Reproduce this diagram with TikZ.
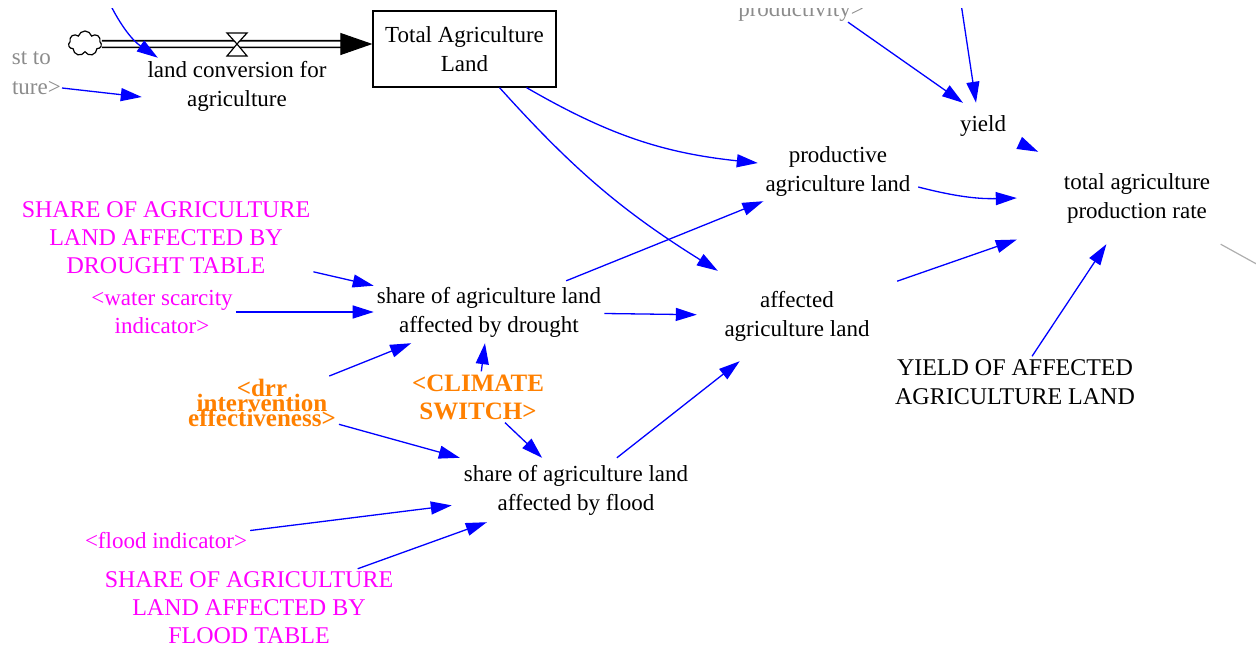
\documentclass[tikz,border=0pt]{standalone}
\usepackage{fontspec}
\setmainfont{Liberation Serif}
\usetikzlibrary{positioning, arrows.meta, shapes.symbols}

\definecolor{vblue}{RGB}{0,0,255}
\definecolor{vpink}{RGB}{255,0,255}
\definecolor{vorange}{RGB}{255,128,0}
\definecolor{vgray}{RGB}{140,140,140}

\newcommand\tightlines{\lineskiplimit -30pt\relax}

\tikzset{
    var/.style={align=center, inner sep=3pt, font=\fontsize{23}{29}\selectfont},
    ext/.style={var, text=vpink, font=\fontsize{23}{28}\selectfont},
    table/.style={var, text=vpink, font=\fontsize{24}{28}\selectfont},
    shadow/.style={var, text=vorange, font=\fontsize{25}{28}\selectfont\bfseries},
    ghost/.style={var, text=vgray, inner sep=1pt},
    link/.style={vblue, line width=1.3pt, -{Triangle[length=21pt,width=13pt]}},
    ghostline/.style={vgray!70, line width=1.2pt},
    pipe/.style={draw=black, double=white, double distance=5pt, line width=1.7pt}
}

\begin{document}
\begin{tikzpicture}[x=1pt, y=1pt]
    \useasboundingbox (0,0) rectangle (1256,-651);
    \clip (0,-8) rectangle (1256,-651);

    % stock and flow
    \node[var, draw, line width=1.2pt, minimum width=183pt, minimum height=76pt] (tal) at (464.5,-49) {Total Agriculture\\Land};
    \node[cloud, draw, line width=1.2pt, cloud puffs=7, aspect=1.3, minimum width=33pt, minimum height=25pt, inner sep=0pt] (src) at (85,-43.5) {};
    \coordinate (valve) at (237,-44);
    \draw[pipe] ([yshift=-0.5pt]src.east) -- ([xshift=-30pt,yshift=5pt]tal.west);
    \draw[-{Triangle[length=32pt,width=22pt]}, line width=1pt] ([xshift=-31pt,yshift=5pt]tal.west) -- ([yshift=5pt]tal.west);
    \draw[fill=white, line width=1.2pt] (valve) -- ++(-10,11) -- ++(20,0) -- cycle;
    \draw[fill=white, line width=1.2pt] (valve) -- ++(-10,-12) -- ++(20,0) -- cycle;
    \node[var, minimum width=190pt] (conv) at (237,-86) {land conversion for\\agriculture};

    % variables
    \node[var, minimum width=160pt, minimum height=60pt] (prod) at (838,-171) {productive\\agriculture land};
    \node[var, minimum width=200pt, minimum height=90pt] (aff) at (797,-316) {affected\\agriculture land};
    \node[var, minimum width=74pt, minimum height=46pt] (yield) at (983,-126) {yield};
    \node[var, minimum width=240pt, minimum height=92pt] (tapr) at (1137,-198) {total agriculture\\production rate};
    \node[var, font=\fontsize{24}{29}\selectfont] (yaal) at (1015,-382) {YIELD OF AFFECTED\\AGRICULTURE LAND};
    \node[var, minimum height=62pt] (sad) at (489,-312) {share of agriculture land\\affected by drought};
    \node[var, minimum width=248pt, minimum height=64pt] (saf) at (576,-490) {share of agriculture land\\affected by flood};

    % inputs
    \node[table] (sadt) at (166,-238) {SHARE OF AGRICULTURE\\LAND AFFECTED BY\\DROUGHT TABLE};
    \node[ext] (wsi) at (162,-312) {<water scarcity\\indicator>};
    \node[ext] (fi) at (166,-541) {<flood indicator>};
    \node[table] (saft) at (249,-608) {SHARE OF AGRICULTURE\\LAND AFFECTED BY\\FLOOD TABLE};
    \node[shadow] (cs) at (478,-397) {<CLIMATE\\SWITCH>};
    \node[shadow, font=\fontsize{25}{15}\selectfont\bfseries\tightlines] (drr) at (262,-403) {<drr\\intervention\\effectiveness>};

    % cut off at the edges
    \node[ghost, anchor=east] (frag1) at (52,-58) {st to};
    \node[ghost, anchor=east] (frag2) at (62,-88) {ture>};
    \node[ghost, anchor=base] (pvty) at (801,-16) {productivity>};
    \coordinate (cin) at (108,0);
    \coordinate (ysrc) at (960.5,0);
    \coordinate (tout) at (1300,-288);

    % links
    \draw[link] (cin) to[bend right=15] ([xshift=16pt]conv.north west);
    \draw[link] (frag2.east) -- ([yshift=-11pt]conv.west);
    \draw[link] ([xshift=62pt]tal.south) to[bend right=12] ([yshift=8pt]prod.west);
    \draw[link] ([xshift=35pt]tal.south) to[bend right=8] ([xshift=21pt]aff.north west);
    \draw[link] ([xshift=47pt]pvty.south) -- ([xshift=-20pt]yield.north);
    \draw[link] (ysrc) -- ([xshift=-7pt]yield.north);
    \draw[link] (yield) -- (tapr);
    \draw[link] ([yshift=-16pt]prod.east) to[bend right=8] (tapr.west);
    \draw[link] (aff) -- (tapr);
    \draw[link] (yaal) -- (tapr);
    \draw[ghostline] (tapr) -- (tout);
    \draw[link] (sadt) -- (sad);
    \draw[link] (wsi) -- (sad);
    \draw[link] (drr) -- (sad);
    \draw[link] (cs) -- (sad);
    \draw[link] (sad) -- (prod);
    \draw[link] (sad) -- (aff);
    \draw[link] (drr) -- (saf);
    \draw[link] (cs) -- (saf);
    \draw[link] (fi) -- (saf);
    \draw[link] (saft) -- (saf);
    \draw[link] (saf) -- (aff);
\end{tikzpicture}
\end{document}
